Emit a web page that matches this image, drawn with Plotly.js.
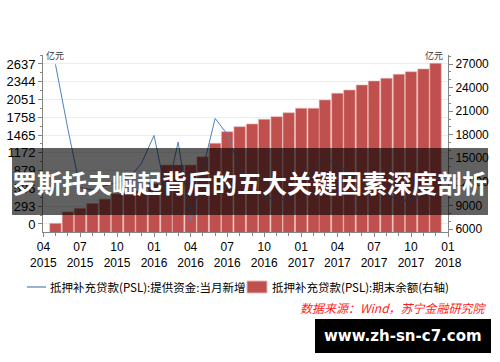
<!DOCTYPE html>
<html>
<head>
<meta charset="utf-8">
<script src="https://cdn.plot.ly/plotly-3.0.1.min.js"></script>
<style>html,body{margin:0;padding:0;background:#fff;}#chart{width:500px;height:362px;}</style>
</head>
<body>
<div id="chart"></div>
<script>
// ---- data ----
const months = ['2015-05','2015-06','2015-07','2015-08','2015-09','2015-10','2015-11','2015-12',
  '2016-01','2016-02','2016-03','2016-04','2016-05','2016-06','2016-07','2016-08','2016-09','2016-10','2016-11','2016-12',
  '2017-01','2017-02','2017-03','2017-04','2017-05','2017-06','2017-07','2017-08','2017-09','2017-10','2017-11','2017-12'];
const pslNew = [2630,1560,600,560,630,680,760,1000,
  1460,480,1350,40,890,1740,1480,925,600,450,400,415,
  680,925,1105,960,860,730,630,515,365,415,480,530];
const pslBalance = [6720,8180,8630,9250,9800,10480,10720,10850,
  11800,14150,14150,14150,15200,16910,18390,19020,19370,19960,20300,20800,
  21360,21360,22420,23270,23690,24330,24840,25180,25690,26020,26370,27090];
const xTickVals = ['2015-04-01','2015-07-01','2015-10-01','2016-01-01','2016-04-01','2016-07-01',
  '2016-10-01','2017-01-01','2017-04-01','2017-07-01','2017-10-01','2018-01-01'];
const xTickText = ['04<br>2015','07<br>2015','10<br>2015','01<br>2016','04<br>2016','07<br>2016',
  '10<br>2016','01<br>2017','04<br>2017','07<br>2017','10<br>2017','01<br>2018'];
const leftTicks = [0,293,586,879,1172,1465,1758,2051,2344,2637];
const leftTickText = ['0','293','586','879','1172','1465','1758','2051','2344','2637'];
const rightTicks = [6000,9000,12000,15000,18000,21000,24000,27000];
const rightTickText = ['6000','9000','12000','15000','18000','21000','24000','27000'];
const lineName = '抵押补充贷款(PSL):提供资金:当月新增';
const barName = '抵押补充贷款(PSL):期末余额(右轴)';
const unitLabel = '亿元';
const titleText = '罗斯托夫崛起背后的五大关键因素深度剖析';
const sourceText = '数据来源：Wind，苏宁金融研究院';
const watermark = 'www.zh-sn-c7.com';

// ---- layout helpers (pixel -> paper) ----
const M = {l:43, r:52, t:55, b:130};
const PW = 500 - M.l - M.r, PH = 362 - M.t - M.b;
const px = x => (x - M.l) / PW;
const py = y => (362 - M.b - y) / PH;
const axisCol = '#868686';
const numFont = 'Liberation Sans, Arial, sans-serif';
const cjkFont = 'Noto Sans CJK SC, sans-serif';

const traces = [
  {type:'bar', x: months.map(m => m + '-01'), y: pslBalance, name: barName, yaxis:'y',
   width: 28.5*86400000,
   marker:{color:'#c0504d', line:{color:'#e8b4b2', width:0.6}}, showlegend:false, hoverinfo:'skip'},
  {type:'scatter', mode:'lines', x: months.map(m => m + '-01'), y: pslNew, name: lineName, yaxis:'y2',
   line:{color:'#4f81bd', width:1}, showlegend:false, hoverinfo:'skip'}
];

const layout = {
  width:500, height:362,
  margin:{l:M.l, r:M.r, t:M.t, b:M.b, pad:0},
  paper_bgcolor:'#fff', plot_bgcolor:'#fff',
  showlegend:false,
  xaxis:{type:'date', range:['2015-03-31','2018-01-01'], tickmode:'array', tickvals:xTickVals, ticktext:xTickText,
    ticks:'outside', ticklen:4, tickcolor:axisCol, showline:true, linecolor:axisCol, linewidth:1,
    showgrid:false, zeroline:false, tickangle:0,
    tickfont:{family:numFont, size:12, color:'#000'},
    minor:{dtick:'M1', tick0:'2015-04-01', ticks:'outside', ticklen:3, tickcolor:axisCol, showgrid:false}},
  yaxis:{side:'right', range:[5618, 28145], tickmode:'array', tickvals:rightTicks, ticktext:rightTickText,
    ticks:'outside', ticklen:4, tickcolor:axisCol, showline:true, linecolor:axisCol, linewidth:1,
    showgrid:false, zeroline:false, tickfont:{family:numFont, size:12, color:'#000'},
    minor:{dtick:1000, tick0:0, ticks:'outside', ticklen:2, tickcolor:axisCol, showgrid:false}},
  yaxis2:{side:'left', overlaying:'y', range:[-132, 2785], tickmode:'array', tickvals:leftTicks, ticktext:leftTickText,
    ticks:'outside', ticklen:4, tickcolor:axisCol, showline:true, linecolor:axisCol, linewidth:1,
    showgrid:true, gridcolor:'#ececec', gridwidth:1, zeroline:false,
    tickfont:{family:numFont, size:13, color:'#000'},
    minor:{dtick:146.5, tick0:0, ticks:'outside', ticklen:2, tickcolor:axisCol, showgrid:false}},
  shapes:[
    {type:'line', xref:'paper', yref:'paper', x0:px(27), x1:px(46), y0:py(287), y1:py(287),
     line:{color:'#95b3d7', width:2}},
    {type:'rect', xref:'paper', yref:'paper', x0:px(247), x1:px(267), y0:py(293), y1:py(281),
     fillcolor:'#c0504d', line:{color:'#e8b4b2', width:1}},
    {type:'rect', xref:'paper', yref:'paper', layer:'above', x0:px(12), x1:px(488), y0:py(215), y1:py(148),
     fillcolor:'rgba(0,0,0,0.62)', line:{width:0}},
    {type:'rect', xref:'paper', yref:'paper', layer:'above', x0:px(315), x1:px(491), y0:py(353), y1:py(319),
     fillcolor:'#000', line:{width:0}}
  ],
  annotations:[
    {xref:'paper', yref:'paper', x:px(44), y:py(55), xanchor:'left', yanchor:'middle', showarrow:false,
     text:unitLabel, font:{family:cjkFont, size:9, color:'#333'}},
    {xref:'paper', yref:'paper', x:px(445), y:py(55), xanchor:'right', yanchor:'middle', showarrow:false,
     text:unitLabel, font:{family:cjkFont, size:9, color:'#333'}},
    {xref:'paper', yref:'paper', x:px(48), y:py(287), xanchor:'left', yanchor:'middle', showarrow:false,
     text:lineName, font:{family:cjkFont, size:11.5, color:'#000'}},
    {xref:'paper', yref:'paper', x:px(270), y:py(287), xanchor:'left', yanchor:'middle', showarrow:false,
     text:barName, font:{family:cjkFont, size:11.5, color:'#000'}},
    {xref:'paper', yref:'paper', x:px(489), y:py(307), xanchor:'right', yanchor:'middle', showarrow:false,
     text:'<i>' + sourceText + '</i>', font:{family:cjkFont, size:12, color:'#ff1a1a'}},
    {xref:'paper', yref:'paper', x:px(250), y:py(182), xanchor:'center', yanchor:'middle', showarrow:false,
     text:'<b>' + titleText + '</b>', font:{family:cjkFont, size:25, color:'#fff'}},
    {xref:'paper', yref:'paper', x:px(403), y:py(336), xanchor:'center', yanchor:'middle', showarrow:false,
     text:'<b>' + watermark + '</b>', font:{family:'DejaVu Sans, sans-serif', size:15, color:'#fff'}}
  ]
};

Plotly.newPlot('chart', traces, layout, {staticPlot:true, displayModeBar:false});
</script>
</body>
</html>
